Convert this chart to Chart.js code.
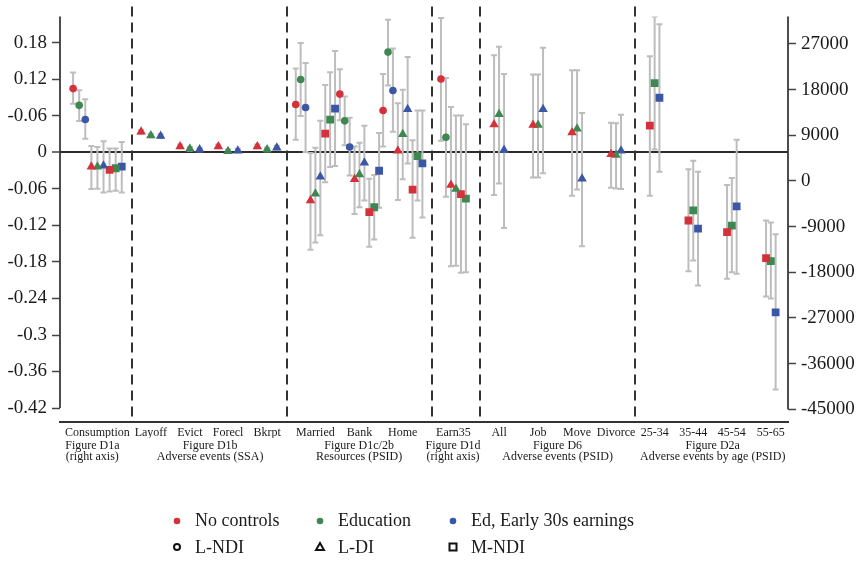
<!DOCTYPE html>
<html>
<head>
<meta charset="utf-8">
<title>Adverse events and resources</title>
<script src="https://cdn.jsdelivr.net/npm/chart.js@4.4.1/dist/chart.umd.min.js"></script>
<style>
    html, body { margin: 0; padding: 0; background: #fff; }
    #wrap { width: 861px; height: 563px; position: relative; }
</style>
</head>
<body>
<div id="wrap"><canvas id="chart"></canvas></div>
<script>
// categories on the x axis
const categories = ['Consumption', 'Layoff', 'Evict', 'Forecl', 'Bkrpt', 'Married', 'Bank', 'Home', 'Earn35',
    'All', 'Job', 'Move', 'Divorce', '25-34', '35-44', '45-54', '55-65'];
// these are read on the right (dollar) axis
const rightAxisCats = ['Consumption', 'Earn35', '25-34', '35-44', '45-54', '55-65'];

// category centres on the x scale and the gap between markers inside one category
const catPos = [0.96, 2.33, 3.33, 4.31, 5.31, 6.55, 7.68, 8.79, 10.09, 11.26, 12.26, 13.26, 14.26, 15.25, 16.24, 17.23, 18.23];
const catSpread = [0.156, 0.25, 0.25, 0.25, 0.25, 0.126, 0.126, 0.126, 0.128, 0.128, 0.128, 0.128, 0.128, 0.123, 0.123, 0.123, 0.123];

// group captions under the categories
const groupPos = [0.83, 3.85, 7.67, 10.08, 12.76, 16.74];
const groupLabels = [
    ['Figure D1a', '(right axis)'],
    ['Figure D1b', 'Adverse events (SSA)'],
    ['Figure D1c/2b', 'Resources (PSID)'],
    ['Figure D1d', '(right axis)'],
    ['Figure D6', 'Adverse events (PSID)'],
    ['Figure D2a', 'Adverse events by age (PSID)']
];
// dashed separators between the groups
const separators = [1.846, 5.82, 9.54, 10.77, 14.74];

// axis ticks
const leftTicks = [-0.42, -0.36, -0.3, -0.24, -0.18, -0.12, -0.06, 0, 0.06, 0.12, 0.18];
const leftTickLabels = ['-0.42', '-0.36', '-0.3', '-0.24', '-0.18', '-0.12', '-0.06', '0', '-0.06', '0.12', '0.18'];
const rightTicks = [-45000, -36000, -27000, -18000, -9000, 0, 9000, 18000, 27000];

// L-NDI (circles)
const lndi_none    = [18200, null, null, null, null, 0.079, 0.096, 0.069, 20100, null, null, null, null, null, null, null, null];
const lndi_none_lo = [15200, null, null, null, null, 0.021, 0.053, 0.010, 7900, null, null, null, null, null, null, null, null];
const lndi_none_hi = [21400, null, null, null, null, 0.138, 0.137, 0.129, 32100, null, null, null, null, null, null, null, null];
const lndi_educ    = [14900, null, null, null, null, 0.120, 0.052, 0.165, 8600, null, null, null, null, null, null, null, null];
const lndi_educ_lo = [11800, null, null, null, null, 0.060, 0.012, 0.110, -3100, null, null, null, null, null, null, null, null];
const lndi_educ_hi = [17900, null, null, null, null, 0.180, 0.092, 0.218, 20300, null, null, null, null, null, null, null, null];
const lndi_earn    = [12100, null, null, null, null, 0.074, 0.009, 0.102, null, null, null, null, null, null, null, null, null];
const lndi_earn_lo = [8300, null, null, null, null, 0.001, -0.038, 0.034, null, null, null, null, null, null, null, null, null];
const lndi_earn_hi = [16100, null, null, null, null, 0.147, 0.057, 0.171, null, null, null, null, null, null, null, null, null];

// L-DI (triangles)
const ldi_none    = [2800, 0.034, 0.010, 0.010, 0.010, -0.079, -0.044, 0.003, -800, 0.046, 0.045, 0.033, -0.003, null, null, null, null];
const ldi_none_lo = [-1600, 0.031, 0.007, 0.007, 0.007, -0.160, -0.101, -0.078, -16800, -0.070, -0.041, -0.071, -0.058, null, null, null, null];
const ldi_none_hi = [6900, 0.037, 0.013, 0.013, 0.013, -0.001, 0.010, 0.081, 14600, 0.160, 0.128, 0.135, 0.049, null, null, null, null];
const ldi_educ    = [2800, 0.028, 0.006, 0.002, 0.005, -0.068, -0.036, 0.030, -1600, 0.063, 0.045, 0.039, -0.004, null, null, null, null];
const ldi_educ_lo = [-1550, 0.025, 0.003, -0.001, 0.002, -0.148, -0.090, -0.044, -16700, -0.051, -0.041, -0.061, -0.059, null, null, null, null];
const ldi_educ_hi = [6700, 0.031, 0.009, 0.005, 0.008, 0.008, 0.016, 0.103, 12900, 0.174, 0.128, 0.135, 0.048, null, null, null, null];
const ldi_earn    = [3000, 0.027, 0.005, 0.003, 0.008, -0.040, -0.017, 0.071, null, 0.004, 0.071, -0.043, 0.003, null, null, null, null];
const ldi_earn_lo = [-2300, 0.024, 0.002, 0.000, 0.005, -0.136, -0.079, -0.018, null, -0.124, -0.034, -0.154, -0.060, null, null, null, null];
const ldi_earn_hi = [7800, 0.030, 0.008, 0.006, 0.011, 0.052, 0.044, 0.157, null, 0.129, 0.172, 0.065, 0.062, null, null, null, null];

// M-NDI (squares)
const mndi_none    = [2200, null, null, null, null, 0.031, -0.098, -0.061, -2600, null, null, null, null, 10900, -7800, -10100, -15200];
const mndi_none_lo = [-2100, null, null, null, null, -0.049, -0.155, -0.140, -18100, null, null, null, null, -2900, -17800, -19300, -22800];
const mndi_none_hi = [6400, null, null, null, null, 0.111, -0.043, 0.020, 12900, null, null, null, null, 24600, 2300, -800, -7800];
const mndi_educ    = [2500, null, null, null, null, 0.054, -0.090, -0.006, -3500, null, null, null, null, 19300, -5800, -8800, -15800];
const mndi_educ_lo = [-1950, null, null, null, null, -0.024, -0.143, -0.079, -18000, null, null, null, null, 6200, -15700, -18000, -23200];
const mndi_educ_hi = [6400, null, null, null, null, 0.132, -0.037, 0.069, 11200, null, null, null, null, 32400, 4000, 600, -8200];
const mndi_earn    = [2800, null, null, null, null, 0.072, -0.030, -0.018, null, null, null, null, null, 16400, -9400, -5000, -25900];
const mndi_earn_lo = [-2300, null, null, null, null, -0.022, -0.091, -0.107, null, null, null, null, null, 1800, -20600, -18300, -41100];
const mndi_earn_hi = [7700, null, null, null, null, 0.167, 0.032, 0.069, null, null, null, null, null, 30900, 1800, 8100, -10500];

// legend
const controlLabels = ['No controls', 'Education', 'Ed, Early 30s earnings'];
const modelLabels = ['L-NDI', 'L-DI', 'M-NDI'];

const SERIF = "'Liberation Serif', 'DejaVu Serif', serif";
const TEXT = '#1a1a1a';
const COLORS = ['#d4313a', '#3e8751', '#3c56a6'];
const SHAPES = ['circle', 'triangle', 'rect'];
const RADIUS = { circle: 3.8, triangle: 5.5, rect: 5.5 };

const series = [
    { est: lndi_none, lo: lndi_none_lo, hi: lndi_none_hi, color: COLORS[0], shape: 'circle' },
    { est: lndi_educ, lo: lndi_educ_lo, hi: lndi_educ_hi, color: COLORS[1], shape: 'circle' },
    { est: lndi_earn, lo: lndi_earn_lo, hi: lndi_earn_hi, color: COLORS[2], shape: 'circle' },
    { est: ldi_none, lo: ldi_none_lo, hi: ldi_none_hi, color: COLORS[0], shape: 'triangle' },
    { est: ldi_educ, lo: ldi_educ_lo, hi: ldi_educ_hi, color: COLORS[1], shape: 'triangle' },
    { est: ldi_earn, lo: ldi_earn_lo, hi: ldi_earn_hi, color: COLORS[2], shape: 'triangle' },
    { est: mndi_none, lo: mndi_none_lo, hi: mndi_none_hi, color: COLORS[0], shape: 'rect' },
    { est: mndi_educ, lo: mndi_educ_lo, hi: mndi_educ_hi, color: COLORS[1], shape: 'rect' },
    { est: mndi_earn, lo: mndi_earn_lo, hi: mndi_earn_hi, color: COLORS[2], shape: 'rect' }
];

// spread the markers of one category side by side, left or right axis per category
function buildDatasets() {
    const pts = series.map(() => ({ left: [], right: [] }));
    categories.forEach((cat, i) => {
        const present = [];
        series.forEach((s, k) => { if (s.est[i] !== null) present.push(k); });
        present.forEach((k, rank) => {
            const s = series[k];
            const x = catPos[i] + (rank - (present.length - 1) / 2) * catSpread[i];
            const side = rightAxisCats.includes(cat) ? 'right' : 'left';
            pts[k][side].push({ x: x, y: s.est[i], lo: s.lo[i], hi: s.hi[i] });
        });
    });

    const datasets = [];
    series.forEach((s, k) => {
        ['left', 'right'].forEach(side => {
            if (!pts[k][side].length) return;
            datasets.push({
                type: 'scatter',
                data: pts[k][side],
                yAxisID: side === 'left' ? 'y' : 'y2',
                pointStyle: s.shape,
                pointRadius: RADIUS[s.shape],
                pointHoverRadius: RADIUS[s.shape],
                backgroundColor: s.color,
                borderColor: s.color,
                borderWidth: 0,
                showLine: false
            });
        });
    });
    return datasets;
}

// axis lines, dashed separators and the confidence intervals
const framePlugin = {
    id: 'frame',
    beforeDatasetsDraw(chart) {
        const ctx = chart.ctx;
        const area = chart.chartArea;
        const xs = chart.scales.x;

        ctx.save();
        ctx.strokeStyle = '#333';
        ctx.lineWidth = 2;
        ctx.setLineDash([10, 6]);
        separators.forEach(v => {
            const px = Math.round(xs.getPixelForValue(v));
            ctx.beginPath();
            ctx.moveTo(px, area.top - 10);
            ctx.lineTo(px, area.bottom);
            ctx.stroke();
        });
        ctx.setLineDash([]);

        ctx.strokeStyle = '#3a3a3a';
        ctx.lineWidth = 1.8;
        ctx.beginPath();
        ctx.moveTo(area.left, area.top);
        ctx.lineTo(area.left, chart.scales.y.getPixelForValue(leftTicks[0]));
        ctx.moveTo(area.right, area.top);
        ctx.lineTo(area.right, chart.scales.y2.getPixelForValue(rightTicks[0]));
        ctx.stroke();

        ctx.beginPath();
        ctx.rect(area.left, area.top, area.right - area.left, area.bottom - area.top);
        ctx.clip();
        ctx.strokeStyle = '#bdbdbd';
        ctx.lineWidth = 2;
        chart.data.datasets.forEach(ds => {
            const ys = chart.scales[ds.yAxisID];
            ds.data.forEach(p => {
                const px = xs.getPixelForValue(p.x);
                const top = ys.getPixelForValue(p.hi);
                const bot = ys.getPixelForValue(p.lo);
                ctx.beginPath();
                ctx.moveTo(px, top); ctx.lineTo(px, bot);
                ctx.moveTo(px - 3, top); ctx.lineTo(px + 3, top);
                ctx.moveTo(px - 3, bot); ctx.lineTo(px + 3, bot);
                ctx.stroke();
            });
        });
        ctx.restore();
    }
};

// two-row legend: colours for the controls, hollow shapes for the models
const legendPlugin = {
    id: 'twoRowLegend',
    afterDraw(chart) {
        const ctx = chart.ctx;
        const cols = [177, 320, 453];
        const rows = [521, 548];
        ctx.save();
        ctx.font = '18px ' + SERIF;
        ctx.textBaseline = 'middle';
        ctx.fillStyle = TEXT;

        controlLabels.forEach((label, i) => {
            ctx.fillStyle = COLORS[i];
            ctx.beginPath();
            ctx.arc(cols[i], rows[0], 3.3, 0, Math.PI * 2);
            ctx.fill();
            ctx.fillStyle = TEXT;
            ctx.fillText(label, cols[i] + 18, rows[0]);
        });

        modelLabels.forEach((label, i) => {
            const x = cols[i], y = rows[1] - 1;
            ctx.strokeStyle = '#111';
            ctx.lineWidth = 2;
            ctx.beginPath();
            if (SHAPES[i] === 'circle') {
                ctx.arc(x, y, 3, 0, Math.PI * 2);
            } else if (SHAPES[i] === 'triangle') {
                ctx.moveTo(x, y - 4);
                ctx.lineTo(x + 4, y + 3);
                ctx.lineTo(x - 4, y + 3);
                ctx.closePath();
            } else {
                ctx.rect(x - 3.5, y - 3.5, 7, 7);
            }
            ctx.stroke();
            ctx.fillStyle = TEXT;
            ctx.fillText(label, x + 18, rows[1]);
        });
        ctx.restore();
    }
};

Chart.defaults.font.family = SERIF;
Chart.defaults.color = TEXT;

new Chart(document.getElementById('chart'), {
    type: 'scatter',
    data: { datasets: buildDatasets() },
    options: {
        responsive: true,
        maintainAspectRatio: false,
        animation: false,
        layout: { padding: { top: 15, bottom: 95, left: 0, right: 0 } },
        plugins: {
            legend: { display: false },
            tooltip: { enabled: false }
        },
        scales: {
            x: {
                type: 'linear',
                position: 'bottom',
                weight: 0,
                min: 0,
                max: 18.67,
                grid: { display: false, drawTicks: false },
                border: { display: true, color: '#333', width: 2 },
                afterBuildTicks: s => { s.ticks = catPos.map(v => ({ value: v })); },
                afterFit: s => { s.height = 16; },
                ticks: {
                    autoSkip: false,
                    maxRotation: 0,
                    padding: 5,
                    color: TEXT,
                    font: { family: SERIF, size: 12, lineHeight: 1 },
                    callback: (v, i) => categories[i]
                }
            },
            x2: {
                type: 'linear',
                position: 'bottom',
                weight: 1,
                min: 0,
                max: 18.67,
                grid: { display: false, drawTicks: false },
                border: { display: false },
                afterBuildTicks: s => { s.ticks = groupPos.map(v => ({ value: v })); },
                afterFit: s => { s.height = 30; },
                ticks: {
                    autoSkip: false,
                    maxRotation: 0,
                    padding: 2,
                    color: TEXT,
                    font: { family: SERIF, size: 12, lineHeight: 0.96 },
                    callback: (v, i) => groupLabels[i]
                }
            },
            y: {
                type: 'linear',
                position: 'left',
                min: -0.443,
                max: 0.2237,
                border: { display: false },
                afterBuildTicks: s => { s.ticks = leftTicks.map(v => ({ value: v })); },
                afterFit: s => { s.width = 60; },
                grid: {
                    color: c => (c.tick && c.tick.value === 0) ? '#2b2b2b' : 'rgba(0,0,0,0)',
                    lineWidth: c => (c.tick && c.tick.value === 0) ? 2 : 1,
                    tickColor: '#444',
                    tickLength: 8,
                    tickWidth: 1.5
                },
                ticks: {
                    padding: 5,
                    color: TEXT,
                    font: { family: SERIF, size: 19 },
                    callback: (v, i) => leftTickLabels[i]
                }
            },
            y2: {
                type: 'linear',
                position: 'right',
                min: -47530,
                max: 32440,
                border: { display: false },
                afterBuildTicks: s => { s.ticks = rightTicks.map(v => ({ value: v })); },
                afterFit: s => { s.width = 73; },
                grid: {
                    drawOnChartArea: false,
                    color: '#444',
                    tickColor: '#444',
                    tickLength: 8,
                    tickWidth: 1.5
                },
                ticks: {
                    padding: 5,
                    color: TEXT,
                    font: { family: SERIF, size: 19 },
                    callback: (v, i) => String(rightTicks[i])
                }
            }
        }
    },
    plugins: [framePlugin, legendPlugin]
});
</script>
</body>
</html>
